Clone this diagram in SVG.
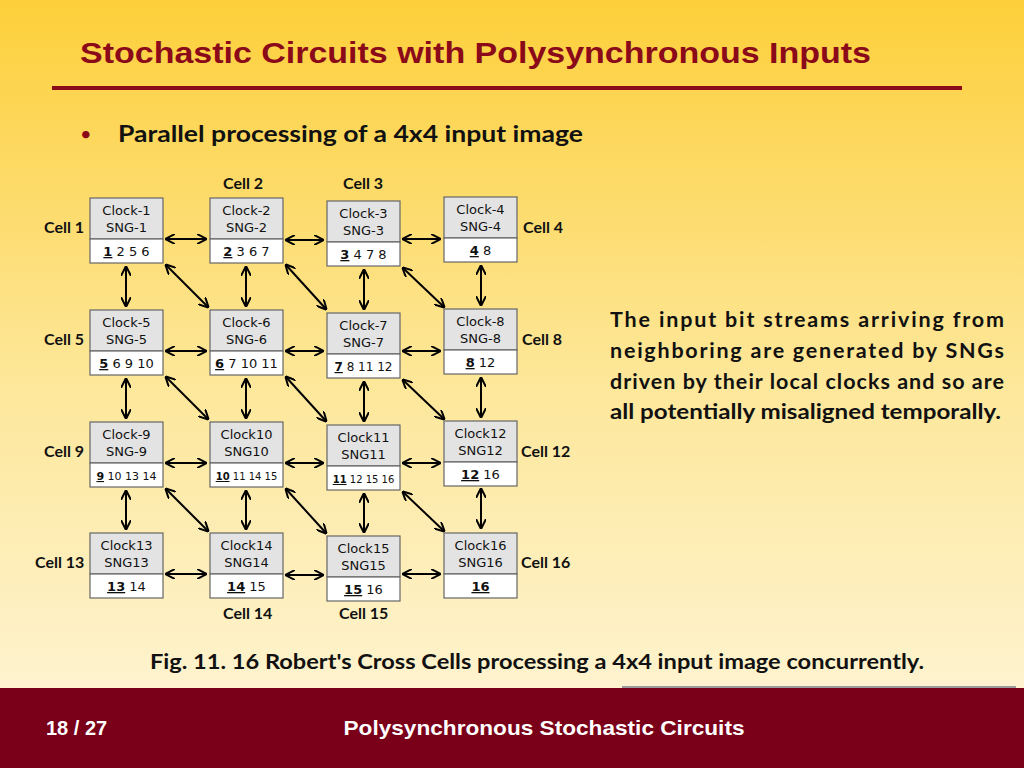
<svg xmlns="http://www.w3.org/2000/svg" width="1024" height="768" viewBox="0 0 1024 768">
<defs>
<linearGradient id="bg" x1="0" y1="0" x2="0" y2="1">
<stop offset="0" stop-color="#fdcf3a"/><stop offset="0.5" stop-color="#fde79a"/><stop offset="1" stop-color="#fef6dc"/>
</linearGradient>
<marker id="ah" viewBox="0 0 10 10" refX="9" refY="5" markerWidth="5" markerHeight="5" orient="auto-start-reverse"><path d="M0,0 L10,5 L0,10" fill="none" stroke="#000" stroke-width="2"/></marker>
<style>
.hd{fill:#e3e3e3;stroke:#666;stroke-width:1.2}
.nb{fill:#fff;stroke:#666;stroke-width:1.2}
.bt{font-family:"DejaVu Sans",sans-serif;font-size:13px;text-anchor:middle;fill:#111}
.nt{font-family:"DejaVu Sans",sans-serif;text-anchor:middle;fill:#111}
.lb{font-family:Lato,sans-serif;font-weight:bold;font-size:16px;fill:#111}
.c line{stroke:#000;stroke-width:2;marker-start:url(#ah);marker-end:url(#ah)}
</style>
</defs>
<rect width="1024" height="768" fill="url(#bg)"/>
<text x="80" y="63" font-family="Liberation Sans,sans-serif" font-weight="bold" font-size="29" fill="#8b0a1a" textLength="791" lengthAdjust="spacingAndGlyphs">Stochastic Circuits with Polysynchronous Inputs</text>
<rect x="52" y="86" width="910" height="4" fill="#8b0a1a"/>
<text x="80" y="141" font-family="Lato,sans-serif" font-size="20" fill="#8b0a1a">•</text>
<text x="118" y="142" font-family="Lato,sans-serif" font-weight="bold" font-size="23" fill="#111" textLength="465" lengthAdjust="spacingAndGlyphs">Parallel processing of a 4x4 input image</text>
<g font-family="Lato,sans-serif" font-weight="bold" font-size="21.5" fill="#111">
<text x="610" y="327" textLength="394">The input bit streams arriving from</text>
<text x="610" y="358" textLength="394">neighboring are generated by SNGs</text>
<text x="610" y="389" textLength="394">driven by their local clocks and so are</text>
<text x="610" y="419" textLength="391" lengthAdjust="spacingAndGlyphs">all potentially misaligned temporally.</text>
</g>
<text x="150" y="669" font-family="Lato,sans-serif" font-weight="bold" font-size="21" fill="#111" textLength="774" lengthAdjust="spacingAndGlyphs">Fig. 11. 16 Robert's Cross Cells processing a 4x4 input image concurrently.</text>
<rect x="622" y="686" width="394" height="2" fill="#999"/>
<rect x="0" y="688" width="1024" height="80" fill="#7a0019"/>
<text x="46" y="735" font-family="Liberation Sans,sans-serif" font-weight="bold" font-size="20" fill="#fff">18 / 27</text>
<text x="544" y="735" text-anchor="middle" font-family="Liberation Sans,sans-serif" font-weight="bold" font-size="21" fill="#fff" textLength="401" lengthAdjust="spacingAndGlyphs">Polysynchronous Stochastic Circuits</text>

<g class="c">
<line x1="166" y1="239" x2="206" y2="239"/><line x1="286" y1="240" x2="323" y2="240"/><line x1="403" y1="239" x2="440" y2="239"/>
<line x1="166" y1="351" x2="206" y2="351"/><line x1="286" y1="351" x2="323" y2="351"/><line x1="403" y1="351" x2="440" y2="351"/>
<line x1="166" y1="463" x2="206" y2="463"/><line x1="286" y1="463" x2="323" y2="463"/><line x1="403" y1="463" x2="440" y2="463"/>
<line x1="166" y1="574" x2="206" y2="574"/><line x1="286" y1="575" x2="323" y2="575"/><line x1="403" y1="574" x2="440" y2="574"/>
<line x1="126" y1="267" x2="126" y2="306"/><line x1="126" y1="379" x2="126" y2="418"/><line x1="126" y1="491" x2="126" y2="529"/>
<line x1="246" y1="267" x2="246" y2="306"/><line x1="246" y1="379" x2="246" y2="418"/><line x1="246" y1="491" x2="246" y2="529"/>
<line x1="364" y1="270" x2="364" y2="309"/><line x1="364" y1="382" x2="364" y2="421"/><line x1="364" y1="494" x2="364" y2="532"/>
<line x1="481" y1="266" x2="481" y2="305"/><line x1="481" y1="378" x2="481" y2="417"/><line x1="481" y1="489" x2="481" y2="528"/>
<line x1="166" y1="265" x2="208" y2="307"/><line x1="286" y1="265" x2="326" y2="309"/><line x1="403" y1="268" x2="444" y2="307"/>
<line x1="166" y1="377" x2="208" y2="419"/><line x1="286" y1="377" x2="326" y2="421"/><line x1="403" y1="380" x2="444" y2="419"/>
<line x1="166" y1="489" x2="208" y2="531"/><line x1="286" y1="489" x2="326" y2="533"/><line x1="403" y1="492" x2="444" y2="531"/>
</g>

<g id="cell1"><rect class="hd" x="90" y="198" width="73" height="41"/><rect class="nb" x="90" y="239" width="73" height="24"/><text class="bt" x="126.5" y="215">Clock-1</text><text class="bt" x="126.5" y="232">SNG-1</text><text class="nt" style="font-size:13px" x="126.5" y="256"><tspan text-decoration="underline" font-weight="bold">1</tspan> 2 5 6</text></g>
<g id="cell2"><rect class="hd" x="210" y="198" width="73" height="41"/><rect class="nb" x="210" y="239" width="73" height="24"/><text class="bt" x="246.5" y="215">Clock-2</text><text class="bt" x="246.5" y="232">SNG-2</text><text class="nt" style="font-size:13px" x="246.5" y="256"><tspan text-decoration="underline" font-weight="bold">2</tspan> 3 6 7</text></g>
<g id="cell3"><rect class="hd" x="327" y="201" width="73" height="41"/><rect class="nb" x="327" y="242" width="73" height="24"/><text class="bt" x="363.5" y="218">Clock-3</text><text class="bt" x="363.5" y="235">SNG-3</text><text class="nt" style="font-size:13px" x="363.5" y="259"><tspan text-decoration="underline" font-weight="bold">3</tspan> 4 7 8</text></g>
<g id="cell4"><rect class="hd" x="444" y="197" width="73" height="41"/><rect class="nb" x="444" y="238" width="73" height="24"/><text class="bt" x="480.5" y="214">Clock-4</text><text class="bt" x="480.5" y="231">SNG-4</text><text class="nt" style="font-size:13px" x="480.5" y="255"><tspan text-decoration="underline" font-weight="bold">4</tspan> 8</text></g>

<g id="cell5"><rect class="hd" x="90" y="310" width="73" height="41"/><rect class="nb" x="90" y="351" width="73" height="24"/><text class="bt" x="126.5" y="327">Clock-5</text><text class="bt" x="126.5" y="344">SNG-5</text><text class="nt" style="font-size:13px" x="126.5" y="368"><tspan text-decoration="underline" font-weight="bold">5</tspan> 6 9 10</text></g>
<g id="cell6"><rect class="hd" x="210" y="310" width="73" height="41"/><rect class="nb" x="210" y="351" width="73" height="24"/><text class="bt" x="246.5" y="327">Clock-6</text><text class="bt" x="246.5" y="344">SNG-6</text><text class="nt" style="font-size:13px" x="246.5" y="368"><tspan text-decoration="underline" font-weight="bold">6</tspan> 7 10 11</text></g>
<g id="cell7"><rect class="hd" x="327" y="313" width="73" height="41"/><rect class="nb" x="327" y="354" width="73" height="24"/><text class="bt" x="363.5" y="330">Clock-7</text><text class="bt" x="363.5" y="347">SNG-7</text><text class="nt" style="font-size:12px" x="363.5" y="371"><tspan text-decoration="underline" font-weight="bold">7</tspan> 8 11 12</text></g>
<g id="cell8"><rect class="hd" x="444" y="309" width="73" height="41"/><rect class="nb" x="444" y="350" width="73" height="24"/><text class="bt" x="480.5" y="326">Clock-8</text><text class="bt" x="480.5" y="343">SNG-8</text><text class="nt" style="font-size:13px" x="480.5" y="367"><tspan text-decoration="underline" font-weight="bold">8</tspan> 12</text></g>

<g id="cell9"><rect class="hd" x="90" y="422" width="73" height="41"/><rect class="nb" x="90" y="463" width="73" height="24"/><text class="bt" x="126.5" y="439">Clock-9</text><text class="bt" x="126.5" y="456">SNG-9</text><text class="nt" style="font-size:11px" x="126.5" y="480"><tspan text-decoration="underline" font-weight="bold">9</tspan> 10 13 14</text></g>
<g id="cell10"><rect class="hd" x="210" y="422" width="73" height="41"/><rect class="nb" x="210" y="463" width="73" height="24"/><text class="bt" x="246.5" y="439">Clock10</text><text class="bt" x="246.5" y="456">SNG10</text><text class="nt" style="font-size:10px" x="246.5" y="480"><tspan text-decoration="underline" font-weight="bold">10</tspan> 11 14 15</text></g>
<g id="cell11"><rect class="hd" x="327" y="425" width="73" height="41"/><rect class="nb" x="327" y="466" width="73" height="24"/><text class="bt" x="363.5" y="442">Clock11</text><text class="bt" x="363.5" y="459">SNG11</text><text class="nt" style="font-size:10px" x="363.5" y="483"><tspan text-decoration="underline" font-weight="bold">11</tspan> 12 15 16</text></g>
<g id="cell12"><rect class="hd" x="444" y="421" width="73" height="41"/><rect class="nb" x="444" y="462" width="73" height="24"/><text class="bt" x="480.5" y="438">Clock12</text><text class="bt" x="480.5" y="455">SNG12</text><text class="nt" style="font-size:13px" x="480.5" y="479"><tspan text-decoration="underline" font-weight="bold">12</tspan> 16</text></g>

<g id="cell13"><rect class="hd" x="90" y="533" width="73" height="41"/><rect class="nb" x="90" y="574" width="73" height="24"/><text class="bt" x="126.5" y="550">Clock13</text><text class="bt" x="126.5" y="567">SNG13</text><text class="nt" style="font-size:13px" x="126.5" y="591"><tspan text-decoration="underline" font-weight="bold">13</tspan> 14</text></g>
<g id="cell14"><rect class="hd" x="210" y="533" width="73" height="41"/><rect class="nb" x="210" y="574" width="73" height="24"/><text class="bt" x="246.5" y="550">Clock14</text><text class="bt" x="246.5" y="567">SNG14</text><text class="nt" style="font-size:13px" x="246.5" y="591"><tspan text-decoration="underline" font-weight="bold">14</tspan> 15</text></g>
<g id="cell15"><rect class="hd" x="327" y="536" width="73" height="41"/><rect class="nb" x="327" y="577" width="73" height="24"/><text class="bt" x="363.5" y="553">Clock15</text><text class="bt" x="363.5" y="570">SNG15</text><text class="nt" style="font-size:13px" x="363.5" y="594"><tspan text-decoration="underline" font-weight="bold">15</tspan> 16</text></g>
<g id="cell16"><rect class="hd" x="444" y="533" width="73" height="41"/><rect class="nb" x="444" y="574" width="73" height="24"/><text class="bt" x="480.5" y="550">Clock16</text><text class="bt" x="480.5" y="567">SNG16</text><text class="nt" style="font-size:13px" x="480.5" y="591"><tspan text-decoration="underline" font-weight="bold">16</tspan></text></g>

<g class="lb">
<text x="223" y="189">Cell 2</text><text x="343" y="189">Cell 3</text>
<text x="44" y="233">Cell 1</text><text x="523" y="233">Cell 4</text>
<text x="44" y="345">Cell 5</text><text x="522" y="345">Cell 8</text>
<text x="44" y="457">Cell 9</text><text x="521" y="457">Cell 12</text>
<text x="35" y="568">Cell 13</text><text x="521" y="568">Cell 16</text>
<text x="223" y="619">Cell 14</text><text x="339" y="619">Cell 15</text>
</g>
</svg>
